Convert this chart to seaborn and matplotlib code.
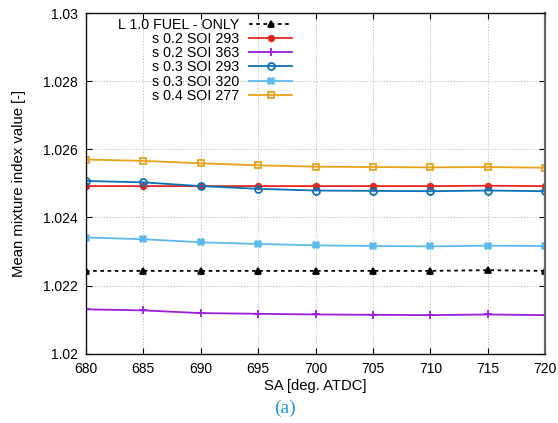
"""Mean mixture index vs SA, recreated with seaborn."""

import matplotlib

matplotlib.use("Agg")
import matplotlib.pyplot as plt
import pandas as pd
import seaborn as sns
from matplotlib.ticker import FuncFormatter, MultipleLocator

# data
sa = [680, 685, 690, 695, 700, 705, 710, 715, 720]

fuel_only = [1.02243, 1.02243, 1.02243, 1.02243, 1.02243, 1.02243, 1.02243, 1.02245, 1.02243]
s02_soi293 = [1.02492, 1.02492, 1.02492, 1.02492, 1.02492, 1.02492, 1.02492, 1.02493, 1.02492]
s02_soi363 = [1.02130, 1.02127, 1.02119, 1.02117, 1.02115, 1.02114, 1.02113, 1.02115, 1.02113]
s03_soi293 = [1.02507, 1.02503, 1.02492, 1.02484, 1.02479, 1.02478, 1.02477, 1.02479, 1.02477]
s03_soi320 = [1.02341, 1.02336, 1.02327, 1.02322, 1.02318, 1.02316, 1.02315, 1.02317, 1.02316]
s04_soi277 = [1.02570, 1.02566, 1.02559, 1.02553, 1.02549, 1.02548, 1.02547, 1.02548, 1.02546]

series_names = [
    "L 1.0 FUEL - ONLY",
    "s 0.2 SOI 293",
    "s 0.2 SOI 363",
    "s 0.3 SOI 293",
    "s 0.3 SOI 320",
    "s 0.4 SOI 277",
]
series_values = [fuel_only, s02_soi293, s02_soi363, s03_soi293, s03_soi320, s04_soi277]

colors = ["black", "#e8261f", "#9b1fd6", "#0a72b5", "#5cbbee", "#e9a21c"]
markers = ["^", "o", "+", "o", "X", "s"]
filled = [True, True, True, False, True, False]
linestyles = [(0, (2, 2)), "-", "-", "-", "-", "-"]
marker_sizes = [4.5, 4, 5.5, 5, 4.5, 5]

df = pd.concat(
    [pd.DataFrame({"sa": sa, "value": vals, "series": name})
     for name, vals in zip(series_names, series_values)],
    ignore_index=True,
)

plt.rcParams.update({"font.family": ["Liberation Sans", "DejaVu Sans"], "font.size": 10})

fig = plt.figure(figsize=(5.58, 4.23), dpi=100)
ax = fig.add_axes([0.154, 0.164, 0.823, 0.805])

for name, color, mk, fill, ls, ms in zip(series_names, colors, markers, filled, linestyles, marker_sizes):
    sub = df[df["series"] == name]
    sns.lineplot(
        data=sub, x="sa", y="value", ax=ax, color=color, linestyle=ls, linewidth=1.3,
        marker=mk, markersize=ms, markerfacecolor=color if fill else "none",
        markeredgecolor=color, markeredgewidth=1.3, label=name,
    )

ax.set_xlim(680, 720)
ax.set_ylim(1.02, 1.03)
ax.xaxis.set_major_locator(MultipleLocator(5))
ax.yaxis.set_major_locator(MultipleLocator(0.002))
ax.yaxis.set_major_formatter(FuncFormatter(lambda v, _: f"{v:g}"))
ax.tick_params(direction="in", top=True, right=True, length=4, width=0.8,
               labelsize=10, pad=6)
ax.grid(True, color="#b0b0b0", linestyle=(0, (1, 2)), linewidth=0.7)
for side in ["left", "top", "bottom"]:
    ax.spines[side].set_color("#111111")
    ax.spines[side].set_linewidth(1.0)
ax.spines["right"].set_color("#666666")
ax.spines["right"].set_linewidth(1.6)

ax.set_xlabel("SA [deg. ATDC]", fontsize=10.7)
ax.set_ylabel("Mean mixture index value [-]", fontsize=10.7)
ax.xaxis.set_label_coords(0.5, -(386 - 353.6) / 340.6, transform=ax.transAxes)
ax.xaxis.label.set_va("center")
ax.yaxis.set_label_coords(-(86 - 19) / 459, 0.5, transform=ax.transAxes)
ax.yaxis.label.set_va("center")

leg = ax.legend(
    loc="upper right", bbox_to_anchor=(292 / 558, 1 - 18 / 423),
    bbox_transform=fig.transFigure, frameon=False, markerfirst=False,
    handlelength=3.0, handletextpad=0.7, labelspacing=0.01, fontsize=10.3,
    borderaxespad=0, borderpad=0,
)

fig.text(285 / 558, 1 - 408 / 423, "(a)", ha="center", va="center",
         fontsize=14, color="#1b9cd8", family=["Liberation Serif", "DejaVu Serif"])

fig.savefig("out.png", dpi=100)
